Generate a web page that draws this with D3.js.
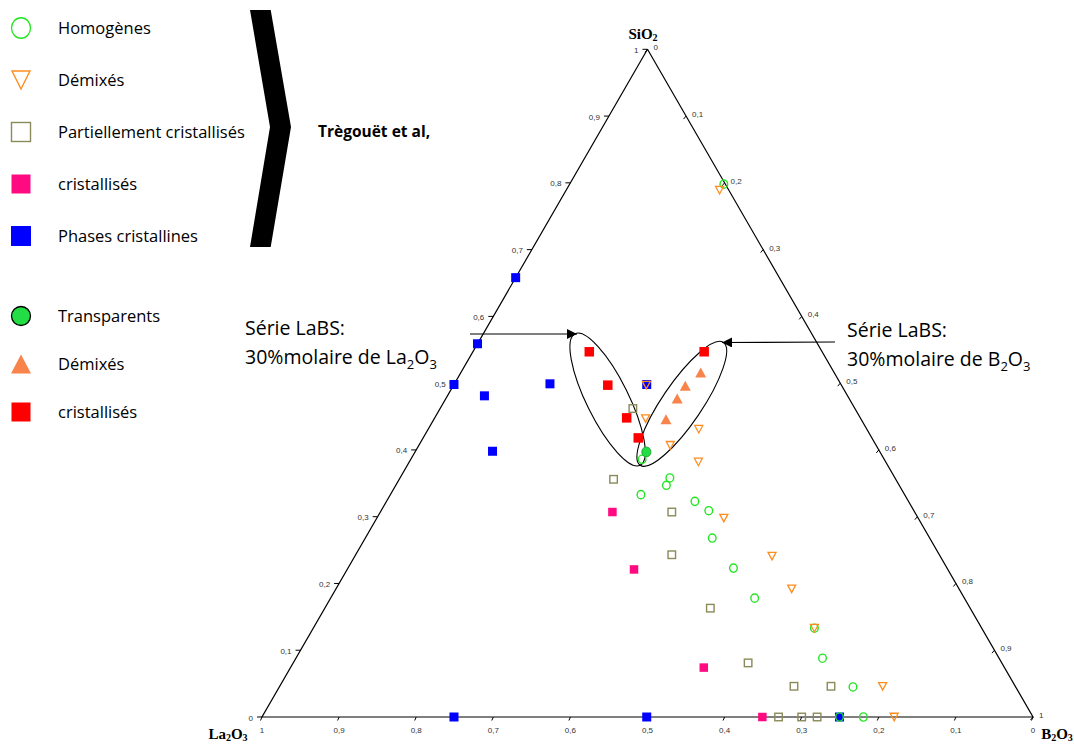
<!DOCTYPE html>
<html><head><meta charset="utf-8">
<script src="https://cdn.jsdelivr.net/npm/d3@7"></script>
<style>body{margin:0;background:#fff} svg{display:block}</style>
</head><body>
<script>
// Compositions as [SiO2, B2O3, La2O3] molar fractions
const homogenes = [[0.798,0.200,0.002],[0.386,0.300,0.314],[0.358,0.350,0.292],[0.347,0.351,0.302],[0.333,0.325,0.342],[0.323,0.400,0.277],[0.309,0.425,0.266],[0.268,0.450,0.282],[0.223,0.500,0.277],[0.178,0.550,0.272],[0.133,0.650,0.217],[0.088,0.683,0.229],[0.045,0.744,0.211],[0.0,0.749,0.251],[0.0,0.780,0.220]];
const demixes = [[0.789,0.199,0.012],[0.497,0.250,0.253],[0.447,0.274,0.279],[0.431,0.351,0.218],[0.407,0.326,0.267],[0.382,0.375,0.243],[0.298,0.450,0.252],[0.241,0.541,0.218],[0.192,0.591,0.217],[0.133,0.650,0.217],[0.046,0.782,0.172],[0.0,0.820,0.180]];
const partCristallises = [[0.462,0.250,0.288],[0.356,0.278,0.366],[0.307,0.378,0.315],[0.243,0.410,0.347],[0.163,0.500,0.337],[0.081,0.590,0.329],[0.046,0.667,0.287],[0.046,0.715,0.239],[0.0,0.670,0.330],[0.0,0.700,0.300],[0.0,0.720,0.280]];
const cristallises = [[0.307,0.301,0.392],[0.221,0.372,0.407],[0.074,0.536,0.390],[0.0,0.649,0.351]];
const phasesCristallines = [[0.658,0.0,0.342],[0.559,0.0,0.441],[0.498,0.0,0.502],[0.481,0.048,0.471],[0.398,0.100,0.502],[0.499,0.124,0.377],[0.498,0.250,0.252],[0.0,0.249,0.751],[0.0,0.499,0.501],[0.0,0.749,0.251]];
const labsTransparents = [[0.397,0.300,0.303]];
const labsDemixes = [[0.516,0.311,0.173],[0.496,0.301,0.203],[0.477,0.300,0.223],[0.446,0.301,0.253]];
const labsCristallises = [[0.547,0.151,0.302],[0.497,0.200,0.303],[0.448,0.249,0.303],[0.418,0.279,0.303],[0.547,0.300,0.153]];
const tickValues = [0,0.1,0.2,0.3,0.4,0.5,0.6,0.7,0.8,0.9,1];
const legend1Labels = ["Homogènes","Démixés","Partiellement cristallisés","cristallisés","Phases cristallines"];
const legend2Labels = ["Transparents","Démixés","cristallisés"];
const referenceLabel = "Trègouët et al,";

const W = 1074, H = 744;
const svg = d3.select("body").append("svg").attr("width", W).attr("height", H);
svg.append("defs").append("marker").attr("id","arr").attr("viewBox","0 0 10 10")
  .attr("refX",10).attr("refY",5).attr("markerWidth",12).attr("markerHeight",10)
  .attr("markerUnits","userSpaceOnUse").attr("orient","auto")
  .append("path").attr("d","M0,0L10,5L0,10Z").attr("fill","#000");

const xS = d3.scaleLinear().domain([0,1]).range([262,1033]);
const yS = d3.scaleLinear().domain([0,1]).range([717,49.3]);
const proj = d => [xS(d[1] + d[0]/2), yS(d[0])];
const fmt = v => v===0 ? "0" : v===1 ? "1" : d3.format(".1f")(v).replace(".", ",");

// Triangle
const A = proj([1,0,0]), L = proj([0,0,1]), B = proj([0,1,0]);
svg.append("path").attr("d", d3.line()([A,L,B,A])).attr("fill","none").attr("stroke","#000").attr("stroke-width",1.2);

const tickG = svg.append("g").attr("font-family","Arial, Liberation Sans, sans-serif").attr("font-size",8).attr("fill","#333");
// left axis SiO2
tickValues.forEach(v => {
  const [x,y] = proj([v,0,1-v]);
  svg.append("line").attr("x1",x-5).attr("y1",y).attr("x2",x).attr("y2",y).attr("stroke","#000").attr("stroke-width",1);
  tickG.append("text").attr("x",x-9).attr("y",y+3.5).attr("text-anchor","end").text(fmt(v));
});
// right axis B2O3
tickValues.forEach(v => {
  const [x,y] = proj([1-v,v,0]);
  svg.append("line").attr("x1",x).attr("y1",y).attr("x2",x-2.5).attr("y2",y+3).attr("stroke","#000").attr("stroke-width",1);
  tickG.append("text").attr("x",x+6).attr("y",y+1).attr("text-anchor","start").text(fmt(v));
});
// bottom axis La2O3
tickValues.forEach(v => {
  const [x,y] = proj([0,1-v,v]);
  svg.append("line").attr("x1",x).attr("y1",y).attr("x2",x-1.5).attr("y2",y+3.5).attr("stroke","#000").attr("stroke-width",1);
  tickG.append("text").attr("x",x).attr("y",y+16).attr("text-anchor","middle").text(fmt(v));
});

// vertex labels
function oxide(x,y,parts,anchor){
  const t = svg.append("text").attr("x",x).attr("y",y).attr("text-anchor",anchor)
    .attr("font-family","Liberation Serif, Times New Roman, serif").attr("font-weight","bold").attr("font-size",15).attr("fill","#000");
  parts.forEach(p => {
    const ts = t.append("tspan").text(p[0]);
    if (p[1]) ts.attr("font-size",10).attr("dy",2); else ts.attr("dy", p[2]||0);
  });
}
oxide(643,39,[["SiO",false],["2",true]],"middle");
oxide(228,739,[["La",false],["2",true],["O",false,-2],["3",true]],"middle");
oxide(1057,739,[["B",false],["2",true],["O",false,-2],["3",true]],"middle");

// ellipses
function ellipseBetween(p1, p2, ry){
  const a = proj(p1), b = proj(p2);
  const cx = (a[0]+b[0])/2, cy = (a[1]+b[1])/2;
  const rx = Math.hypot(b[0]-a[0], b[1]-a[1])/2;
  const ang = Math.atan2(b[1]-a[1], b[0]-a[0])*180/Math.PI;
  svg.append("ellipse").attr("cx",cx).attr("cy",cy).attr("rx",rx).attr("ry",ry)
    .attr("transform",`rotate(${ang},${cx},${cy})`).attr("fill","none").attr("stroke","#000").attr("stroke-width",1.1);
}
ellipseBetween([0.574,0.119,0.307],[0.377,0.302,0.321],21);
ellipseBetween([0.561,0.318,0.121],[0.377,0.302,0.321],20);

// symbols
function plot(data, draw){
  data.forEach(d => { const [x,y] = proj(d); draw(svg.append("g").attr("transform",`translate(${x},${y})`)); });
}
const C = {green:"#22e622", orange:"#ff8c1e", olive:"#8a8a5a", pink:"#ff0a80", blue:"#0000ff", coral:"#f8844c", red:"#ff0000", fgreen:"#22dd44"};
const sq = (g,s,fill,stroke) => g.append("rect").attr("x",-s/2).attr("y",-s/2).attr("width",s).attr("height",s)
  .attr("fill",fill).attr("stroke",stroke||"none").attr("stroke-width",1.4);
const downTri = (g,w,h,fill,stroke,sw) => g.append("path").attr("d",`M${-w/2},${-h/2}L${w/2},${-h/2}L0,${h/2}Z`)
  .attr("fill",fill).attr("stroke",stroke||"none").attr("stroke-width",sw||1.3);
const upTri = (g,w,h,fill,stroke,sw) => g.append("path").attr("d",`M${-w/2},${h/2}L${w/2},${h/2}L0,${-h/2}Z`)
  .attr("fill",fill).attr("stroke",stroke||"none").attr("stroke-width",sw||1.3);
const circ = (g,r,fill,stroke,sw) => g.append("ellipse").attr("rx",r).attr("ry",r*1.08).attr("fill",fill).attr("stroke",stroke||"none").attr("stroke-width",sw||1.3);

plot(phasesCristallines, g => sq(g,9,C.blue));
plot(cristallises, g => sq(g,8.5,C.pink));
plot(partCristallises, g => sq(g,7.5,"none",C.olive));
plot(homogenes, g => circ(g,3.8,"none",C.green,1.4));
plot(demixes, g => downTri(g,8,7.5,"none",C.orange,1.3));
plot(labsCristallises, g => sq(g,9.5,C.red));
plot(labsDemixes, g => upTri(g,11,10,C.coral));
plot(labsTransparents, g => circ(g,4.6,C.fgreen,"#1a9a2a",0.8));

// legend
const lg = svg.append("g").attr("font-family","Open Sans, sans-serif").attr("font-size",16.5).attr("fill","#000");
const l1 = [28,80,132,184,236];
const l1draw = [
  g => circ(g,9.5,"none",C.green,1.3),
  g => downTri(g,18,18,"none",C.orange,1.4),
  g => sq(g,19,"none",C.olive),
  g => sq(g,19,C.pink),
  g => sq(g,20,C.blue)
];
legend1Labels.forEach((t,i) => {
  l1draw[i](svg.append("g").attr("transform",`translate(21,${l1[i]})`));
  lg.append("text").attr("x",58).attr("y",l1[i]+6).text(t);
});
const l2 = [316,364,412];
const l2draw = [
  g => g.append("circle").attr("r",9.5).attr("fill",C.fgreen).attr("stroke","#000").attr("stroke-width",1.3),
  g => upTri(g,20,19,C.coral),
  g => sq(g,19,C.red)
];
legend2Labels.forEach((t,i) => {
  l2draw[i](svg.append("g").attr("transform",`translate(21,${l2[i]})`));
  lg.append("text").attr("x",58).attr("y",l2[i]+6).text(t);
});

// brace / chevron
svg.append("path").attr("d","M250,10L270.7,10L291,127L270.7,247L250,247L270,127Z").attr("fill","#000");
svg.append("text").attr("x",318).attr("y",137).attr("font-family","Open Sans, sans-serif").attr("font-weight","bold").attr("font-size",15.5).text(referenceLabel);

// annotations
function anno(x,y,ox){
  const g = svg.append("g").attr("font-family","Open Sans, sans-serif").attr("font-size",19.5).attr("fill","#000");
  g.append("text").attr("x",x).attr("y",y).text("Série LaBS:");
  const t = g.append("text").attr("x",x).attr("y",y+29);
  t.append("tspan").text("30%molaire de " + ox);
  t.append("tspan").attr("font-size",13).attr("dy",5).text("2");
  t.append("tspan").attr("dy",-5).text("O");
  t.append("tspan").attr("font-size",13).attr("dy",5).text("3");
}
anno(245,335,"La");
anno(847,337,"B");
svg.append("line").attr("x1",470).attr("y1",334).attr("x2",577).attr("y2",334).attr("stroke","#000").attr("stroke-width",1.2).attr("marker-end","url(#arr)");
svg.append("line").attr("x1",835).attr("y1",342).attr("x2",722).attr("y2",342.5).attr("stroke","#000").attr("stroke-width",1.2).attr("marker-end","url(#arr)");
</script>
</body></html>
